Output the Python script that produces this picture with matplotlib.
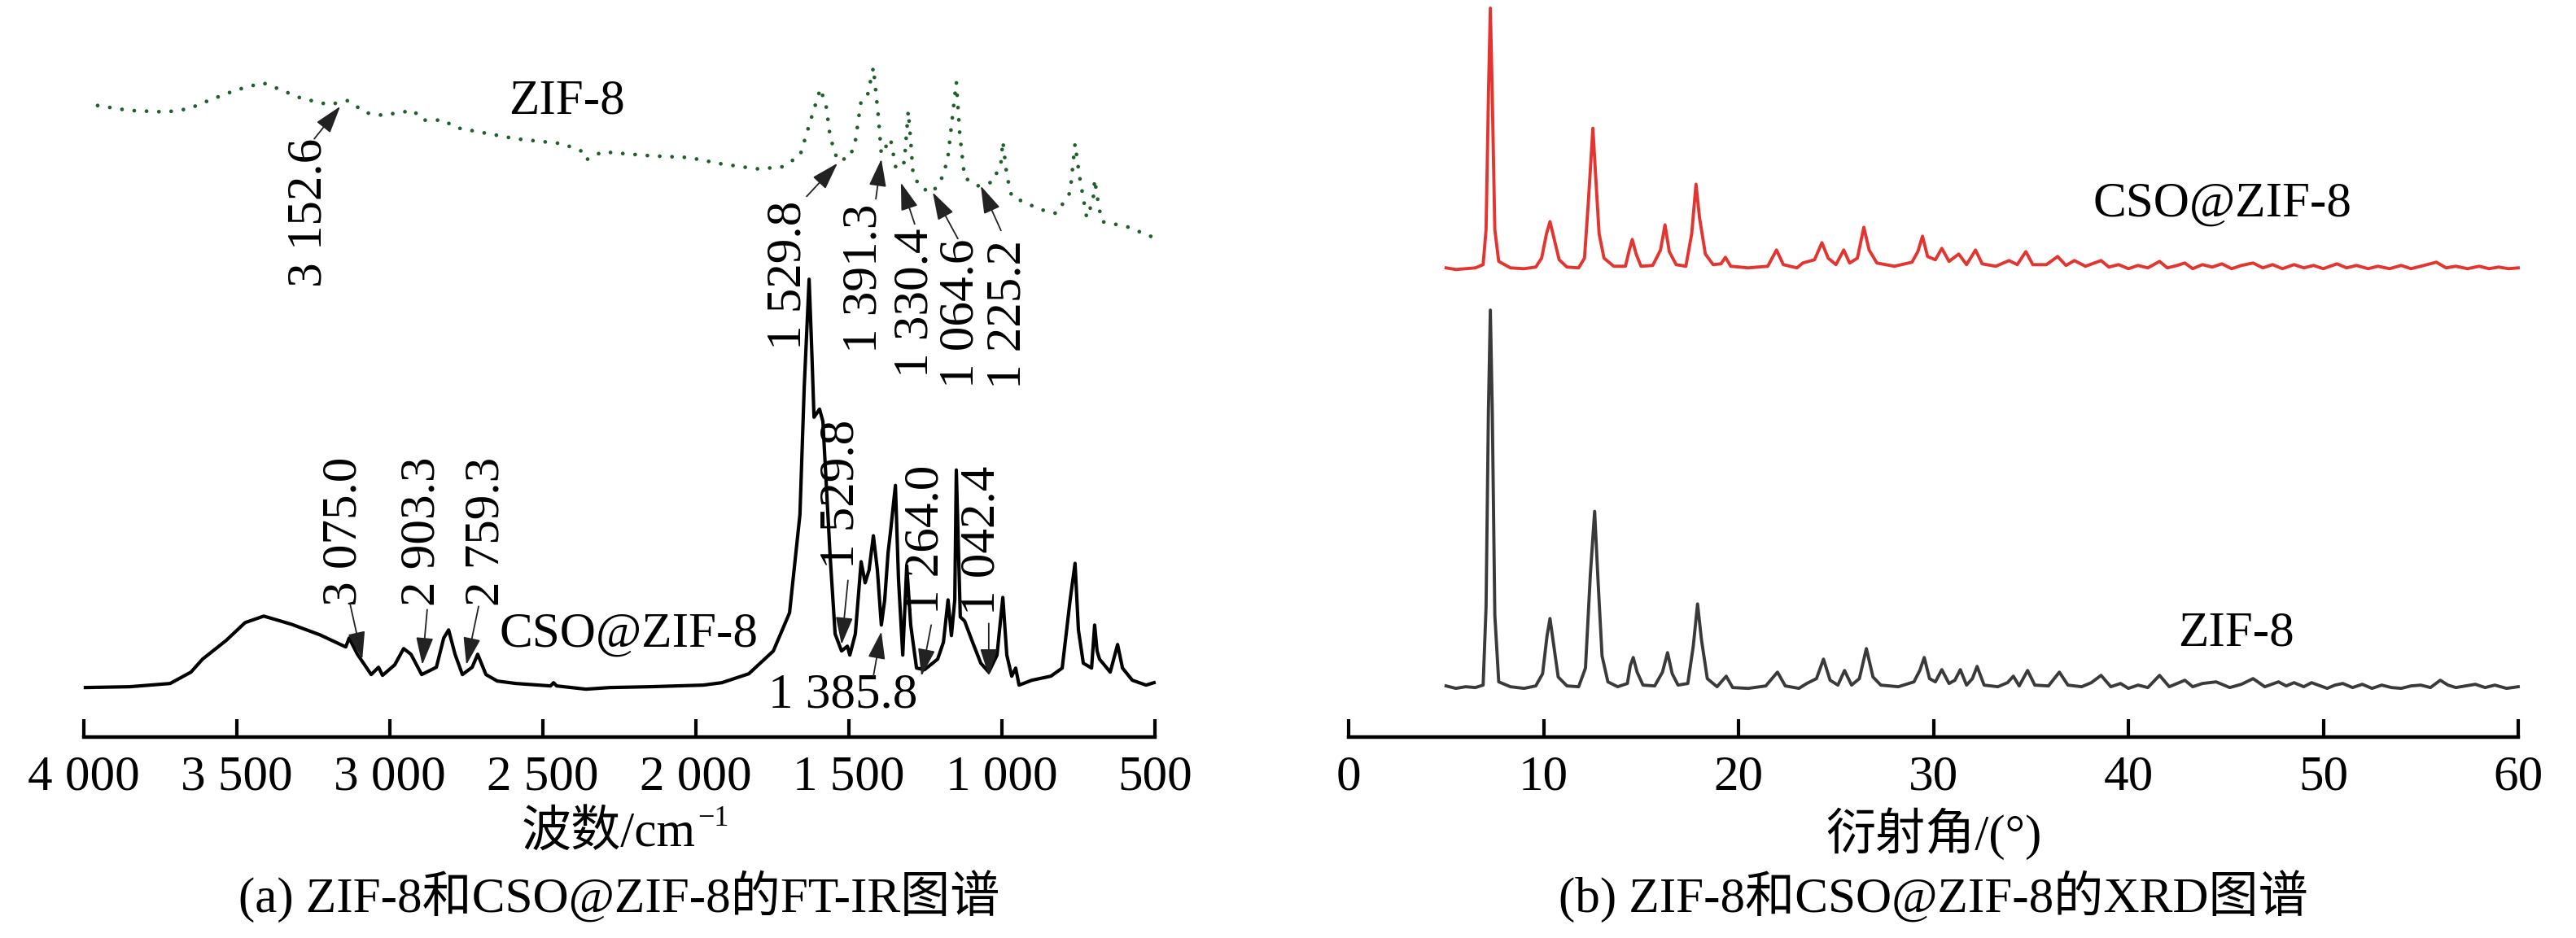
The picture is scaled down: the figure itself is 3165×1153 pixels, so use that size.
import matplotlib
matplotlib.use('Agg')
import matplotlib.pyplot as plt

plt.rcParams['font.family'] = ['Liberation Serif', 'Noto Sans CJK SC']

# ---- FT-IR data (wavenumber / cm-1, signal height in a.u.) ----
ir_cso_wn = [3995, 3850, 3718, 3650, 3612, 3535, 3473, 3412, 3322, 3229,
             3144, 3133, 3106, 3061, 3037, 3024, 2984, 2955, 2931, 2896,
             2848, 2824, 2808, 2787, 2763, 2731, 2713, 2686, 2649, 2588,
             2475, 2465, 2455, 2359, 2282, 2150, 1976, 1915, 1827, 1747,
             1694, 1660, 1646, 1630, 1622, 1614, 1596, 1585, 1561, 1545,
             1524, 1505, 1497, 1479, 1460, 1447, 1434, 1420, 1407, 1394,
             1383, 1372, 1364, 1348, 1338, 1324, 1316, 1311, 1298, 1279,
             1253, 1210, 1191, 1176, 1165, 1154, 1149, 1136, 1122, 1096,
             1069, 1043, 1016, 997, 984, 968, 955, 944, 902, 840,
             803, 790, 777, 761, 750, 734, 707, 697, 689, 681,
             646, 622, 606, 574, 529, 503]
ir_cso_t = [61, 62, 66, 80, 96, 119, 141, 149, 139, 126,
            111, 122, 102, 77, 86, 76, 89, 109, 102, 77,
            86, 122, 132, 102, 77, 86, 102, 77, 69, 66,
            63, 67, 63, 59, 61, 62, 64, 67, 78, 106,
            153, 274, 431, 564, 483, 394, 404, 389, 221, 127,
            106, 112, 101, 127, 216, 190, 206, 248, 206, 138,
            169, 227, 253, 310, 195, 101, 169, 211, 138, 85,
            83, 96, 117, 169, 125, 169, 329, 148, 143, 117,
            91, 80, 101, 172, 101, 75, 85, 64, 70, 75,
            85, 127, 169, 214, 132, 91, 85, 138, 106, 96,
            80, 114, 85, 70, 64, 67]

ir_zif_wn = [3955, 3854, 3731, 3657, 3580, 3503, 3415, 3367, 3290, 3199,
             3138, 3077, 3024, 2923, 2894, 2824, 2787, 2588, 2436, 2375,
             2359, 2306, 2146, 2024, 1915, 1801, 1721, 1660, 1625, 1593,
             1574, 1561, 1537, 1497, 1479, 1460, 1439, 1420, 1404, 1394,
             1364, 1346, 1319, 1306, 1298, 1290, 1263, 1226, 1191, 1176,
             1149, 1138, 1122, 1077, 1029, 1003, 997, 984, 968, 875,
             822, 777, 761, 747, 723, 702, 697, 684, 673, 593,
             508]
ir_zif_t = [778, 772, 770, 774, 786, 797, 806, 799, 787, 779,
            784, 769, 766, 772, 760, 760, 751, 737, 731, 722,
            711, 721, 716, 714, 706, 700, 702, 716, 760, 799,
            776, 739, 710, 714, 734, 784, 791, 825, 765, 718,
            737, 700, 708, 771, 734, 692, 676, 671, 692, 716,
            807, 744, 689, 679, 684, 708, 734, 692, 666, 650,
            645, 671, 731, 692, 640, 661, 687, 655, 635, 629,
            616]

ir_ticks = [4000, 3500, 3000, 2500, 2000, 1500, 1000, 500]
ir_tick_labels = ['4 000', '3 500', '3 000', '2 500', '2 000', '1 500', '1 000', '500']

# peak notes: text, text centre, rotation, arrow tail, arrow head
ir_notes = [
    ('3 152.6', (3263, 646), 90, (3247, 737), (3162, 777)),
    ('1 529.8', (1697, 569), 90, (1638, 666), (1537, 707)),
    ('1 391.3', (1449, 565), 90, (1412, 663), (1394, 712)),
    ('1 330.4', (1282, 535), 90, (1285, 632), (1330, 683)),
    ('1 064.6', (1133, 522), 90, (1144, 614), (1226, 671)),
    ('1 225.2', (979, 521), 90, (1003, 624), (1069, 679)),
    ('3 075.0', (3149, 253), 90, (3130, 164), (3090, 96)),
    ('2 903.3', (2894, 253), 90, (2878, 157), (2894, 89)),
    ('2 759.3', (2683, 253), 90, (2710, 161), (2750, 89)),
    ('1 529.8', (1524, 299), 90, (1503, 193), (1524, 114)),
    ('1 264.0', (1247, 243), 90, (1231, 138), (1263, 75)),
    ('1 042.4', (1064, 242), 90, (1043, 140), (1043, 75)),
    ('1 385.8', (1519, 51), 0, (1420, 75), (1394, 130)),
]

# ---- XRD data (2theta / deg, intensity in a.u.) ----
xrd_cso_2t = [5.0, 5.5, 6.0, 6.5, 6.9, 7.05, 7.18, 7.27, 7.36, 7.5,
              7.7, 8.3, 9.0, 9.6, 9.9, 10.15, 10.33, 10.5, 10.8, 11.2,
              11.8, 12.1, 12.3, 12.53, 12.7, 12.85, 13.1, 13.6, 14.2, 14.4,
              14.55, 14.75, 15.0, 15.6, 16.0, 16.23, 16.45, 16.8, 17.3, 17.6,
              17.82, 18.0, 18.3, 18.7, 19.1, 19.33, 19.6, 20.5, 21.5, 21.95,
              22.3, 23.0, 23.3, 23.9, 24.28, 24.6, 25.0, 25.4, 25.7, 26.1,
              26.43, 26.7, 27.1, 28.0, 28.9, 29.2, 29.44, 29.7, 30.1, 30.43,
              30.8, 31.3, 31.7, 32.16, 32.5, 33.2, 33.88, 34.3, 34.74, 35.1,
              35.8, 36.37, 36.8, 37.23, 37.8, 38.6, 39.0, 39.5, 40.0, 40.5,
              41.0, 41.6, 42.0, 42.5, 42.9, 43.3, 43.8, 44.3, 44.8, 45.3,
              45.8, 46.4, 46.9, 47.4, 47.9, 48.5, 49.0, 49.5, 50.0, 50.7,
              51.2, 51.7, 52.3, 52.8, 53.4, 54.0, 54.5, 55.0, 55.8, 56.3,
              56.8, 57.4, 58.0, 58.5, 59.0, 59.5, 60.0]
xrd_cso_int = [578, 576, 577, 578, 582, 625, 800, 898, 800, 625,
               586, 578, 577, 579, 590, 620, 635, 618, 588, 579,
               578, 590, 660, 750, 680, 620, 590, 580, 580, 600,
               613, 595, 580, 581, 600, 631, 598, 582, 580, 620,
               681, 640, 595, 582, 583, 591, 580, 578, 580, 600,
               582, 578, 584, 588, 609, 590, 582, 600, 584, 590,
               628, 600, 584, 580, 585, 598, 617, 592, 588, 602,
               586, 595, 582, 600, 583, 580, 587, 582, 598, 582,
               582, 592, 581, 587, 580, 587, 579, 582, 577, 581,
               578, 586, 578, 581, 584, 577, 582, 579, 583, 577,
               581, 584, 578, 582, 577, 582, 578, 581, 577, 583,
               578, 581, 577, 580, 577, 581, 577, 580, 585, 578,
               580, 577, 580, 577, 579, 577, 578]

xrd_zif_2t = [5.0, 5.5, 6.0, 6.5, 6.9, 7.05, 7.17, 7.27, 7.37, 7.5,
              7.7, 8.3, 9.0, 9.6, 9.95, 10.18, 10.33, 10.48, 10.75, 11.2,
              11.8, 12.15, 12.4, 12.62, 12.8, 13.0, 13.3, 13.8, 14.3, 14.45,
              14.6, 14.8, 15.1, 15.7, 16.1, 16.36, 16.6, 16.9, 17.4, 17.68,
              17.9, 18.1, 18.4, 18.9, 19.37, 19.7, 20.5, 21.4, 22.0, 22.4,
              23.1, 23.5, 24.0, 24.36, 24.7, 25.1, 25.44, 25.8, 26.2, 26.56,
              26.9, 27.3, 28.2, 29.0, 29.3, 29.53, 29.8, 30.1, 30.43, 30.8,
              31.1, 31.38, 31.7, 32.0, 32.24, 32.6, 33.3, 33.8, 34.1, 34.4,
              34.83, 35.2, 35.9, 36.46, 36.9, 37.6, 38.1, 38.6, 39.1, 39.6,
              40.0, 40.5, 41.0, 41.6, 42.1, 42.5, 42.9, 43.3, 43.8, 44.5,
              45.2, 45.8, 46.4, 47.0, 47.7, 48.1, 48.5, 49.0, 49.4, 50.2,
              50.6, 51.0, 51.5, 52.0, 52.5, 53.0, 53.5, 54.0, 54.5, 55.0,
              55.5, 56.0, 56.4, 56.8, 57.3, 57.8, 58.3, 58.8, 59.4, 60.0]
xrd_zif_int = [63, 60, 62, 61, 64, 160, 400, 526, 400, 150,
               68, 62, 60, 63, 78, 125, 146, 120, 74, 63,
               62, 85, 200, 278, 190, 100, 68, 62, 66, 88,
               98, 80, 64, 63, 80, 104, 78, 64, 66, 112,
               164, 120, 72, 62, 75, 61, 60, 63, 80, 63,
               60, 66, 72, 96, 70, 64, 82, 64, 72, 109,
               74, 64, 62, 68, 82, 98, 72, 68, 83, 66,
               70, 83, 64, 72, 87, 64, 62, 67, 75, 63,
               82, 64, 63, 80, 64, 62, 67, 76, 62, 66,
               60, 64, 61, 76, 62, 66, 70, 62, 66, 68,
               61, 65, 72, 62, 68, 63, 67, 62, 67, 60,
               64, 66, 61, 65, 60, 64, 61, 60, 63, 64,
               61, 70, 64, 61, 63, 65, 61, 64, 60, 62]

xrd_ticks = [0, 10, 20, 30, 40, 50, 60]

FS = 44
W, H = 3165, 1153
fig = plt.figure(figsize=(W / 100, H / 100), dpi=100)

# axes placed in pixel terms of the reference picture
axis_y = 906
ax1 = fig.add_axes([103 / W, (H - axis_y) / H, 1316 / W, axis_y / H])
ax2 = fig.add_axes([1657 / W, (H - axis_y) / H, 1437 / W, axis_y / H])

for ax in (ax1, ax2):
    ax.patch.set_alpha(0)
    for s in ('top', 'right', 'left'):
        ax.spines[s].set_visible(False)
    ax.spines['bottom'].set_linewidth(3.2)
    ax.tick_params(axis='x', direction='in', length=16, width=3,
                   labelsize=FS, pad=16)
    ax.tick_params(axis='y', left=False, labelleft=False)
    ax.set_ylim(0, 908)

# ---- (a) FT-IR ----
ax1.set_xlim(4000, 500)
ax1.set_xticks(ir_ticks)
ax1.set_xticklabels(ir_tick_labels)
ax1.plot(ir_cso_wn, ir_cso_t, color='black', lw=3, clip_on=False)
ax1.plot(ir_zif_wn, ir_zif_t, color='#1f5f2a', lw=3.4,
         linestyle=(0, (0.01, 3.2)), dash_capstyle='round', clip_on=False)

ax1.text(2612, 783, 'ZIF-8', fontsize=FS, ha='left', va='center')
ax1.text(2641, 126, 'CSO@ZIF-8', fontsize=FS, ha='left', va='center')

for txt, (tx, ty), rot, tail, head in ir_notes:
    ax1.text(tx, ty, txt, fontsize=FS, rotation=rot, ha='center', va='center')
    ax1.annotate('', xy=head, xytext=tail,
                 arrowprops=dict(arrowstyle='-|>,head_length=0.7,head_width=0.22',
                                 color='#222222', lw=1.3, mutation_scale=30,
                                 shrinkA=0, shrinkB=0))

# x label with a separate superscript, so the CJK fallback still works
ax1.set_xlabel('波数/cm', fontsize=FS, va='center')
ax1.xaxis.set_label_coords(0.49, (axis_y - 1025) / axis_y)
ax1.annotate('−1', xy=(1.0, 1.0), xycoords=ax1.xaxis.label,
             xytext=(2, 5), textcoords='offset points',
             fontsize=26, ha='left', va='top')

# ---- (b) XRD ----
ax2.set_xlim(0, 60)
ax2.set_xticks(xrd_ticks)
ax2.plot(xrd_cso_2t, xrd_cso_int, color='#e3342f', lw=2.8, clip_on=False)
ax2.plot(xrd_zif_2t, xrd_zif_int, color='#3a3a3a', lw=2.8, clip_on=False)
ax2.text(38.2, 657, 'CSO@ZIF-8', fontsize=FS, ha='left', va='center')
ax2.text(42.55, 128, 'ZIF-8', fontsize=FS, ha='left', va='center')
ax2.set_xlabel('衍射角/(°)', fontsize=FS, va='center')
ax2.xaxis.set_label_coords(0.5, (axis_y - 1025) / axis_y)

# captions
fig.text(761 / W, 1 - 1102 / H, '(a) ZIF-8和CSO@ZIF-8的FT-IR图谱',
         fontsize=FS, ha='center', va='center')
fig.text(2375 / W, 1 - 1102 / H, '(b) ZIF-8和CSO@ZIF-8的XRD图谱',
         fontsize=FS, ha='center', va='center')

fig.savefig('out.png', dpi=100)
